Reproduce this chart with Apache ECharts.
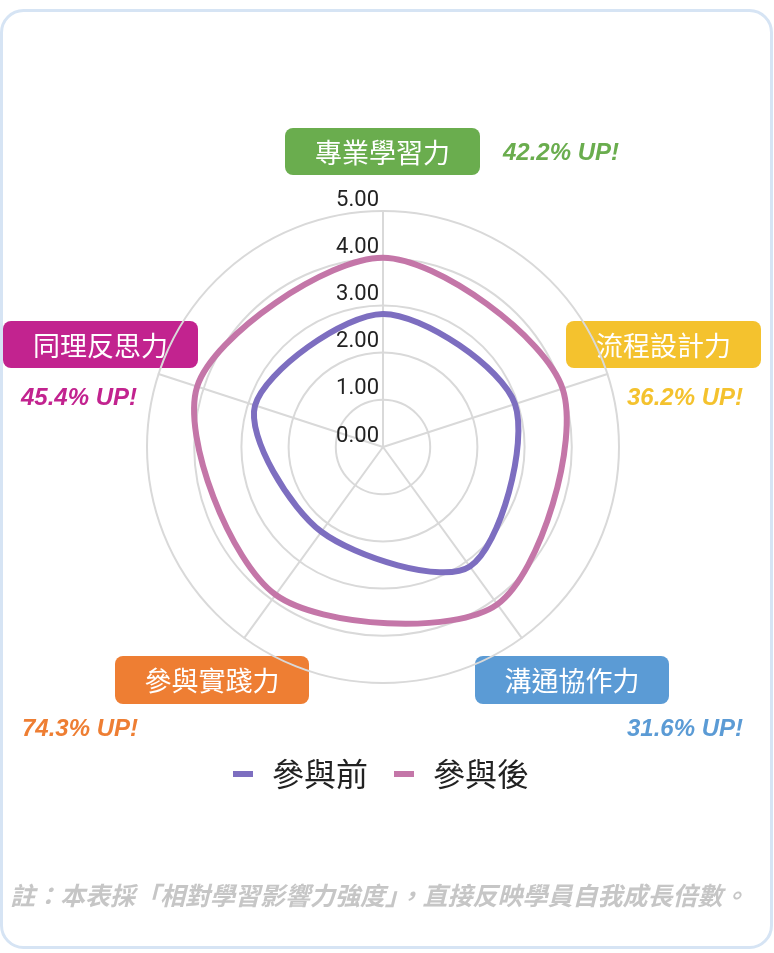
<!DOCTYPE html>
<html><head><meta charset="utf-8">
<script src="https://cdn.jsdelivr.net/npm/echarts@6/dist/echarts.min.js"></script>
<style>html,body{margin:0;padding:0;background:#fff}#c{width:774px;height:953px}</style>
</head><body><div id="c"></div>
<script>
// ---- data ----
const CATEGORIES = ['專業學習力', '流程設計力', '溝通協作力', '參與實踐力', '同理反思力'];
const BEFORE = [2.82, 2.94, 3.13, 2.22, 2.85];
const AFTER = [4.01, 4.00, 4.12, 3.87, 4.14];
const GROWTH = ['42.2% UP!', '36.2% UP!', '31.6% UP!', '74.3% UP!', '45.4% UP!'];
const TICKS = [0, 1, 2, 3, 4, 5];
const SERIES_NAMES = ['參與前', '參與後'];
const NOTE = '註：本表採「相對學習影響力強度」，直接反映學員自我成長倍數。';

// ---- styling / layout ----
const CAT_COLORS = ['#6aad4e', '#f4c22e', '#5b9bd5', '#ee7e33', '#c2238f'];
const LINE_COLORS = ['#7d6ec0', '#c476a8'];
const GRID_COLOR = '#d9d9d9';
const BOXES = [
  {x: 285, y: 128, w: 195, h: 47},
  {x: 566, y: 321, w: 195, h: 47},
  {x: 475, y: 656, w: 194, h: 48},
  {x: 115, y: 656, w: 194, h: 48},
  {x: 3, y: 321, w: 195, h: 47}
];
const UPPOS = [
  {x: 503, y: 153, align: 'left'},
  {x: 743, y: 398, align: 'right'},
  {x: 743, y: 729, align: 'right'},
  {x: 22, y: 729, align: 'left'},
  {x: 21, y: 398, align: 'left'}
];
const CENTER = [383, 447];
const RADIUS = 236;

const chart = echarts.init(document.getElementById('c'), null, {renderer: 'canvas'});

function makeSeries(name, values, color) {
  return {
    type: 'custom', name: name, coordinateSystem: 'polar',
    data: values.map((v, i) => [v, i]),
    itemStyle: {color: color},
    silent: true, z: 3,
    renderItem: function (params, api) {
      if (params.dataIndexInside !== 0) return null;
      const pts = [];
      for (let i = 0; i < params.dataInsideLength; i++) {
        pts.push(api.coord([api.value(0, i), api.value(1, i)]));
      }
      return {
        type: 'polygon',
        shape: {points: pts, smooth: 0.3},
        style: {fill: 'none', stroke: color, lineWidth: 6, lineJoin: 'round'}
      };
    }
  };
}

const graphics = [
  {type: 'rect', z: -10, shape: {x: 1.5, y: 10.5, width: 770, height: 937, r: 22},
   style: {fill: '#fff', stroke: '#d6e4f4', lineWidth: 3}}
];
CATEGORIES.forEach((c, i) => {
  const b = BOXES[i];
  graphics.push({type: 'rect', shape: {x: b.x, y: b.y, width: b.w, height: b.h, r: 8},
    style: {fill: CAT_COLORS[i]}});
  graphics.push({type: 'text', style: {text: c, x: b.x + b.w / 2, y: b.y + b.h / 2 + 1,
    align: 'center', verticalAlign: 'middle', fill: '#fff',
    font: 'normal 27px "Noto Sans CJK TC"'}});
  const u = UPPOS[i];
  graphics.push({type: 'text', style: {text: GROWTH[i], x: u.x, y: u.y,
    align: u.align, verticalAlign: 'middle', fill: CAT_COLORS[i],
    font: 'italic bold 24px "Liberation Sans", Arial'}});
});
graphics.push({type: 'text', style: {text: NOTE, x: 10, y: 895, align: 'left', verticalAlign: 'middle',
  fill: '#c6c6c6', font: 'italic bold 25px "Noto Sans CJK TC"'}});

chart.setOption({
  animation: false,
  color: LINE_COLORS,
  radar: {
    center: CENTER, radius: RADIUS, startAngle: 90, shape: 'circle', splitNumber: TICKS.length - 1,
    indicator: CATEGORIES.map(n => ({name: n, min: TICKS[0], max: TICKS[TICKS.length - 1]})),
    axisName: {show: false},
    axisLine: {lineStyle: {color: GRID_COLOR, width: 2}},
    splitLine: {lineStyle: {color: GRID_COLOR, width: 2}},
    splitArea: {show: false}, axisTick: {show: false}, axisLabel: {show: false}
  },
  polar: {center: CENTER, radius: RADIUS},
  angleAxis: {
    type: 'category', data: CATEGORIES, startAngle: 90, clockwise: true, boundaryGap: false,
    axisLine: {show: false}, axisTick: {show: false}, axisLabel: {show: false},
    splitLine: {show: false}
  },
  radiusAxis: {
    type: 'value', min: TICKS[0], max: TICKS[TICKS.length - 1], interval: TICKS[1] - TICKS[0],
    axisLine: {show: false}, axisTick: {show: false}, splitLine: {show: false},
    axisLabel: {formatter: v => v.toFixed(2), fontSize: 22, color: '#222', fontFamily: 'Roboto',
      align: 'right', verticalAlign: 'bottom', margin: 4},
    z: 5
  },
  legend: {
    left: 228, top: 753, icon: 'rect', itemWidth: 20, itemHeight: 6, itemGap: 26,
    data: SERIES_NAMES,
    textStyle: {fontSize: 32, color: '#222', fontFamily: 'Noto Sans CJK TC', padding: [0, 0, 0, 14]}
  },
  graphic: graphics,
  series: [
    makeSeries(SERIES_NAMES[0], BEFORE, LINE_COLORS[0]),
    makeSeries(SERIES_NAMES[1], AFTER, LINE_COLORS[1])
  ]
});
</script></body></html>
